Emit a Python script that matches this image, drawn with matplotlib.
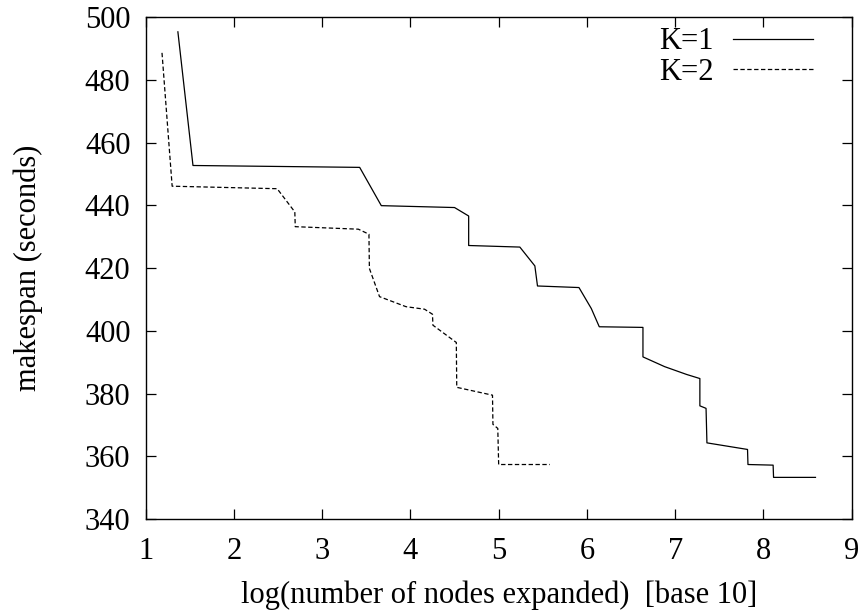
import matplotlib
matplotlib.use("Agg")
import matplotlib.pyplot as plt

# K=1 curve (solid)
k1_x = [1.365, 1.536, 3.425, 3.67, 4.50, 4.66, 4.66, 5.24, 5.41, 5.44, 5.91, 6.05, 6.14,
        6.635, 6.635, 6.88, 7.13, 7.28, 7.28, 7.35, 7.36, 7.82, 7.825, 8.11, 8.115, 8.59]
k1_y = [495.3, 452.7, 452.1, 439.9, 439.3, 436.6, 427.2, 426.7, 420.7, 414.3, 413.8, 407.1, 401.3,
        401.1, 391.7, 388.6, 386.1, 384.8, 376.1, 375.3, 364.3, 362.2, 357.4, 357.2, 353.3, 353.3]

# K=2 curve (dashed)
k2_x = [1.185, 1.30, 2.49, 2.69, 2.695, 3.41, 3.53, 3.535, 3.65, 3.95, 4.16, 4.25, 4.255,
        4.52, 4.525, 4.93, 4.935, 4.99, 5.00, 5.58]
k2_y = [488.6, 446.1, 445.3, 437.9, 433.2, 432.4, 430.8, 419.9, 410.9, 407.7, 406.9, 405.3, 401.8,
        396.3, 382.0, 379.5, 370.2, 368.9, 357.4, 357.4]

plt.rcParams['font.family'] = ['Liberation Serif', 'DejaVu Serif']
plt.rcParams['font.size'] = 22

fig = plt.figure(figsize=(8.62, 6.10), dpi=100)
ax = fig.add_axes([0.169, 0.149, 0.819, 0.823])

ax.plot(k1_x, k1_y, color='black', linewidth=0.9, label='K=1')
ax.plot(k2_x, k2_y, color='black', linewidth=0.9, linestyle=(0, (3.5, 2)), label='K=2')

ax.set_xlim(1, 9)
ax.set_ylim(340, 500)
ax.set_xticks(range(1, 10))
ax.set_yticks(range(340, 501, 20))
ax.tick_params(direction='in', length=7, width=0.9, top=True, right=True)
ax.tick_params(axis='x', pad=13)
ax.tick_params(axis='y', pad=11)
for s in ax.spines.values():
    s.set_linewidth(1.0)

ax.set_xlabel('log(number of nodes expanded)  [base 10]', labelpad=10)
ax.set_ylabel('makespan (seconds)', labelpad=30)

ax.legend(loc='upper right', frameon=False, markerfirst=False, handlelength=2.6,
          handletextpad=0.65, labelspacing=0.05, borderaxespad=0.0,
          bbox_to_anchor=(0.962, 1.004), fontsize=22)

fig.savefig('out.png', dpi=100)
